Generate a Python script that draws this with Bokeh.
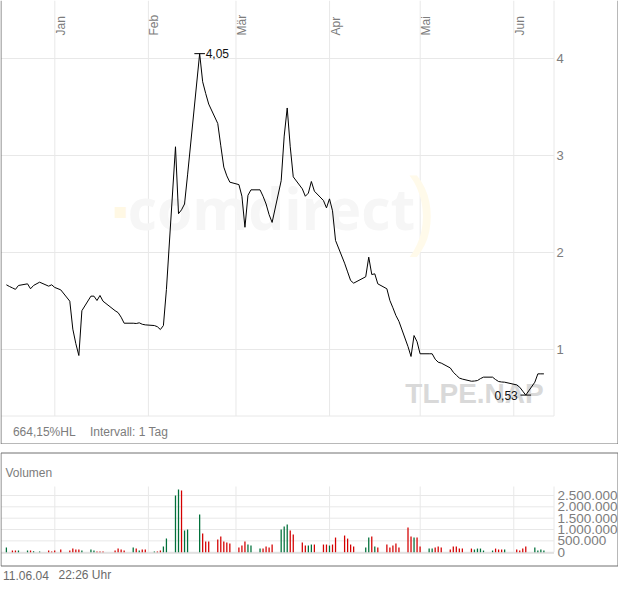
import numpy as np
import pandas as pd
from bokeh.plotting import figure
from bokeh.layouts import column
from bokeh.models import Range1d
from bokeh.core.properties import value
from bokeh.embed import file_html
from bokeh.resources import INLINE

# ---------------- data ----------------
price_dates = [
    "2003-12-15", "2003-12-16", "2003-12-17", "2003-12-18", "2003-12-19", "2003-12-22", "2003-12-23",
    "2003-12-24", "2003-12-26", "2003-12-29", "2003-12-30", "2003-12-31", "2004-01-02", "2004-01-05",
    "2004-01-06", "2004-01-07", "2004-01-08", "2004-01-09", "2004-01-12", "2004-01-13", "2004-01-14",
    "2004-01-15", "2004-01-16", "2004-01-20", "2004-01-21", "2004-01-22", "2004-01-23", "2004-01-26",
    "2004-01-27", "2004-01-28", "2004-01-29", "2004-01-30", "2004-02-02", "2004-02-03", "2004-02-04",
    "2004-02-05", "2004-02-06", "2004-02-09", "2004-02-10", "2004-02-11", "2004-02-12", "2004-02-13",
    "2004-02-17", "2004-02-18", "2004-02-19", "2004-02-20", "2004-02-23", "2004-02-24", "2004-02-25",
    "2004-02-26", "2004-02-27", "2004-03-01", "2004-03-02", "2004-03-03", "2004-03-04", "2004-03-05",
    "2004-03-08", "2004-03-09", "2004-03-10", "2004-03-11", "2004-03-12", "2004-03-15", "2004-03-16",
    "2004-03-17", "2004-03-18", "2004-03-19", "2004-03-22", "2004-03-23", "2004-03-24", "2004-03-25",
    "2004-03-26", "2004-03-29", "2004-03-30", "2004-03-31", "2004-04-01", "2004-04-02", "2004-04-05",
    "2004-04-06", "2004-04-07", "2004-04-08", "2004-04-12", "2004-04-13", "2004-04-14", "2004-04-15",
    "2004-04-16", "2004-04-19", "2004-04-20", "2004-04-21", "2004-04-22", "2004-04-23", "2004-04-26",
    "2004-04-27", "2004-04-28", "2004-04-29", "2004-04-30", "2004-05-03", "2004-05-04", "2004-05-05",
    "2004-05-06", "2004-05-07", "2004-05-10", "2004-05-11", "2004-05-12", "2004-05-13", "2004-05-14",
    "2004-05-17", "2004-05-18", "2004-05-19", "2004-05-20", "2004-05-21", "2004-05-24", "2004-05-25",
    "2004-05-26", "2004-05-27", "2004-05-28", "2004-06-01", "2004-06-02", "2004-06-03", "2004-06-04",
    "2004-06-07", "2004-06-08", "2004-06-09", "2004-06-10",
]
price_values = [
    1.667, 1.65, 1.635, 1.62, 1.66, 1.677, 1.626,
    1.66, 1.694, 1.653, 1.667, 1.64, 1.615, 1.498,
    1.21, 1.06, 0.938, 1.40, 1.55, 1.55, 1.505,
    1.557, 1.498, 1.40, 1.38, 1.333, 1.271, 1.271,
    1.268, 1.275, 1.26, 1.254, 1.247, 1.235, 1.206,
    1.247, 1.62, 3.09, 2.40, 2.44, 2.50, 2.80,
    4.05, 3.76, 3.64, 3.53, 3.33, 3.10, 2.88,
    2.79, 2.725, 2.70, 2.58, 2.26, 2.59, 2.646,
    2.646, 2.58, 2.50, 2.39, 2.31, 2.74, 3.20,
    3.49, 3.09, 2.78, 2.656, 2.58, 2.612, 2.732,
    2.632, 2.536, 2.46, 2.553, 2.43, 2.124, 1.89,
    1.80, 1.711, 1.684, 1.75, 1.952, 1.773, 1.78,
    1.677, 1.626, 1.505, 1.43, 1.35, 1.29, 1.03,
    0.928, 1.144, 1.08, 0.956, 0.956, 0.956, 0.90,
    0.869, 0.86, 0.81, 0.766, 0.735, 0.706, 0.695,
    0.673, 0.675, 0.68, 0.70, 0.715, 0.715, 0.69,
    0.67, 0.665, 0.663, 0.635, 0.611, 0.57, 0.53,
    0.663, 0.749, 0.749, 0.749,
]

volume_dates = [
    "2003-12-15", "2003-12-17", "2003-12-18", "2003-12-19", "2003-12-22", "2003-12-23", "2003-12-24",
    "2003-12-26", "2003-12-29", "2003-12-30", "2003-12-31", "2004-01-02", "2004-01-05", "2004-01-06",
    "2004-01-07", "2004-01-08", "2004-01-09", "2004-01-12", "2004-01-13", "2004-01-14", "2004-01-15",
    "2004-01-16", "2004-01-20", "2004-01-21", "2004-01-22", "2004-01-23", "2004-01-26", "2004-01-27",
    "2004-01-28", "2004-01-29", "2004-01-30", "2004-02-02", "2004-02-03", "2004-02-04", "2004-02-05",
    "2004-02-06", "2004-02-09", "2004-02-10", "2004-02-11", "2004-02-12", "2004-02-13", "2004-02-17",
    "2004-02-18", "2004-02-19", "2004-02-20", "2004-02-23", "2004-02-24", "2004-02-25", "2004-02-26",
    "2004-02-27", "2004-03-01", "2004-03-02", "2004-03-03", "2004-03-04", "2004-03-05", "2004-03-08",
    "2004-03-09", "2004-03-10", "2004-03-11", "2004-03-12", "2004-03-15", "2004-03-16", "2004-03-17",
    "2004-03-18", "2004-03-19", "2004-03-22", "2004-03-23", "2004-03-24", "2004-03-25", "2004-03-26",
    "2004-03-29", "2004-03-30", "2004-03-31", "2004-04-01", "2004-04-02", "2004-04-05", "2004-04-06",
    "2004-04-07", "2004-04-08", "2004-04-12", "2004-04-13", "2004-04-14", "2004-04-15", "2004-04-16",
    "2004-04-19", "2004-04-20", "2004-04-21", "2004-04-22", "2004-04-23", "2004-04-26", "2004-04-27",
    "2004-04-28", "2004-04-29", "2004-04-30", "2004-05-03", "2004-05-04", "2004-05-05", "2004-05-06",
    "2004-05-07", "2004-05-10", "2004-05-11", "2004-05-12", "2004-05-13", "2004-05-14", "2004-05-17",
    "2004-05-18", "2004-05-19", "2004-05-20", "2004-05-21", "2004-05-24", "2004-05-25", "2004-05-26",
    "2004-05-27", "2004-05-28", "2004-06-01", "2004-06-02", "2004-06-03", "2004-06-04", "2004-06-07",
    "2004-06-08", "2004-06-09", "2004-06-10",
]
volume_values = [
    206000, 73000, 73000, 73000, 73000, 73000, 44000,
    30000, 73000, 30000, 73000, 118000, 73000, 160000,
    118000, 118000, 73000, 118000, 73000, 30000, 30000,
    30000, 73000, 160000, 118000, 73000, 206000, 160000,
    73000, 118000, 118000, 30000, 30000, 73000, 250000,
    600000, 2500000, 2760000, 2720000, 955000, 1000000, 1660000,
    823000, 470000, 470000, 560000, 690000, 470000, 426000,
    382000, 206000, 294000, 470000, 338000, 294000, 160000,
    160000, 250000, 206000, 338000, 1000000, 1130000, 1220000,
    955000, 780000, 426000, 294000, 294000, 338000, 338000,
    338000, 338000, 294000, 338000, 646000, 735000, 600000,
    338000, 250000, 206000, 646000, 690000, 250000, 206000,
    338000, 206000, 294000, 382000, 206000, 1090000, 690000,
    646000, 646000, 250000, 160000, 160000, 206000, 250000,
    206000, 118000, 250000, 250000, 160000, 160000, 160000,
    118000, 160000, 160000, 73000, 73000, 160000, 118000,
    118000, 118000, 118000, 73000, 160000, 250000, 206000,
    73000, 118000, 73000,
]
volume_up = [
    1, 0, 0, 1, 1, 0, 1,
    1, 0, 0, 0, 0, 0, 0,
    0, 0, 1, 1, 1, 0, 0,
    0, 0, 0, 0, 0, 1, 0,
    1, 0, 0, 1, 0, 0, 1,
    1, 1, 1, 0, 1, 1, 1,
    0, 0, 0, 0, 0, 0, 0,
    0, 0, 0, 0, 1, 1, 1,
    0, 0, 0, 0, 1, 1, 1,
    0, 0, 0, 0, 1, 1, 0,
    0, 0, 1, 0, 0, 0, 0,
    0, 0, 1, 1, 0, 1, 0,
    0, 0, 0, 0, 0, 0, 0,
    1, 0, 0, 1, 1, 0, 0,
    0, 0, 0, 0, 0, 0, 0,
    1, 1, 1, 1, 1, 0, 0,
    0, 1, 0, 0, 0, 0, 1,
    1, 1, 1,
]

month_starts = ["2004-01-01", "2004-02-01", "2004-03-01", "2004-04-01", "2004-05-01", "2004-06-01"]
month_labels = ["Jan", "Feb", "Mär", "Apr", "Mai", "Jun"]
price_ticks = [1, 2, 3, 4]
price_tick_labels = ["1", "2", "3", "4"]
volume_ticks = [0, 500000, 1000000, 1500000, 2000000, 2500000]
volume_tick_labels = ["0", "500.000", "1.000.000", "1.500.000", "2.000.000", "2.500.000"]

symbol = "TLPE.NAP"
interval_text = "Intervall: 1 Tag"
stamp_date = "11.06.04"
stamp_time = "22:26 Uhr"

# ---------------- geometry helpers ----------------
W, H1, H2 = 618, 444, 137
EPOCH = pd.Timestamp("2004-01-01")
PPD = 3.0197                      # px per day
X0 = -54.3 / PPD
X1 = X0 + W / PPD
PPP = 97.0                        # px per price unit
Y_TOP = 446.0 / PPP
VPP = 500000.0 / 11.34            # volume per px
V_ZERO = 107.7                    # px of the zero line in the volume panel


def days(dates, hours=0.0):
    t = pd.to_datetime(pd.Series(dates)) + pd.Timedelta(hours=hours)
    return ((t - EPOCH) / pd.Timedelta(days=1)).to_numpy()


def dx(cx):
    return X0 + cx / PPD


def py(cy):
    return Y_TOP - cy / PPP


def vy(cy):
    return (V_ZERO - cy) * VPP


FONT = value("Liberation Sans")
GRID = "#e8e8e8"
BOX = "#707070"
LABEL = "#7c7c7c"

px = days(price_dates, hours=23.2)
vx = days(volume_dates, hours=23.2)
mx = days(month_starts)
pv = np.array(price_values)

# ---------------- price panel ----------------
p = figure(width=W, height=H1, x_range=Range1d(X0, X1), y_range=Range1d(py(H1), Y_TOP),
           x_axis_type=None, y_axis_type=None, toolbar_location=None, output_backend="svg",
           min_border=0, outline_line_color=None, background_fill_color="white",
           border_fill_color="white")

plot_right = dx(553.5)
plot_bottom = py(415.5)
# grid
p.segment(x0=mx, y0=[plot_bottom] * len(mx), x1=mx, y1=[Y_TOP] * len(mx), line_color=GRID, line_width=1)
p.segment(x0=[dx(0.5)] * len(price_ticks), y0=price_ticks, x1=[plot_right] * len(price_ticks), y1=price_ticks,
          line_color=GRID, line_width=1)
p.segment(x0=[dx(0.5), plot_right], y0=[plot_bottom, plot_bottom], x1=[plot_right, plot_right],
          y1=[plot_bottom, Y_TOP], line_color=GRID, line_width=1)

# watermarks
p.text(x=[dx(271)], y=[py(207)], text=["comdirect"], text_font=value("Open Sans"), text_font_style="bold",
       text_font_size="57px", text_color="#f6f6f6", text_align="center", text_baseline="middle")
p.text(x=[dx(120)], y=[py(210)], text=["\u25aa"], text_font=value("DejaVu Sans"),
       text_font_size="22px", text_color="#fff8e4", text_align="center", text_baseline="middle")
p.text(x=[dx(420)], y=[py(205)], text=[")"], text_font=value("Open Sans"),
       text_font_size="94px", text_color="#fffaea", text_align="center", text_baseline="middle")
p.text(x=[dx(474)], y=[py(393)], text=[symbol], text_font=FONT, text_font_style="bold",
       text_font_size="28px", text_color="#d9d9d9", text_align="center", text_baseline="middle")

# month labels
p.text(x=mx, y=[py(35)] * len(mx), text=month_labels, angle=np.pi / 2, text_font=FONT,
       text_font_size="12px", text_color=LABEL, text_align="left", text_baseline="top", x_offset=-1)
# price tick labels
p.text(x=[dx(556)] * len(price_ticks), y=price_ticks, text=price_tick_labels, text_font=FONT,
       text_font_size="13px", text_color=LABEL, text_align="left", text_baseline="middle")

# price line
p.line(px, pv, line_color="black", line_width=1)

# high / low markers
i_hi = int(np.argmax(pv))
i_lo = int(np.argmin(pv))
hw = 5.3 / PPD
p.segment(x0=[px[i_hi] - hw, px[i_lo] - hw], y0=[pv[i_hi], pv[i_lo]],
          x1=[px[i_hi] + hw, px[i_lo] + hw], y1=[pv[i_hi], pv[i_lo]], line_color="black", line_width=1)
fmt = lambda v: f"{v:.2f}".replace(".", ",")
p.text(x=[px[i_hi]], y=[pv[i_hi]], text=[fmt(pv[i_hi])], x_offset=6, text_font=FONT,
       text_font_size="12px", text_color="#111111", text_align="left", text_baseline="middle")
p.text(x=[px[i_lo]], y=[pv[i_lo]], text=[fmt(pv[i_lo])], x_offset=-8, text_font=FONT,
       text_font_size="12px", text_color="#111111", text_align="right", text_baseline="middle")

hl = (pv[i_hi] - pv[i_lo]) / pv[i_lo] * 100
p.text(x=[dx(12.4), dx(89.5)], y=[py(431)] * 2, text=[fmt(hl) + "%HL", interval_text], text_font=FONT,
       text_font_size="12px", text_color=LABEL, text_align="left", text_baseline="middle")

# box (left, right, bottom)
p.segment(x0=[dx(0.5), dx(617.5), dx(0.5)], y0=[Y_TOP, Y_TOP, py(443.5)],
          x1=[dx(0.5), dx(617.5), dx(617.5)], y1=[py(443.5), py(443.5), py(443.5)],
          line_color=BOX, line_width=1)

# ---------------- volume panel ----------------
v = figure(width=W, height=H2, x_range=Range1d(X0, X1), y_range=Range1d(vy(H2), vy(0)),
           x_axis_type=None, y_axis_type=None, toolbar_location=None, output_backend="svg",
           min_border=0, outline_line_color=None, background_fill_color="white",
           border_fill_color="white")

v_top = vy(42)
v.segment(x0=mx, y0=[0] * len(mx), x1=mx, y1=[v_top] * len(mx), line_color=GRID, line_width=1)
v.segment(x0=[dx(0.5)] * len(volume_ticks), y0=volume_ticks, x1=[plot_right] * len(volume_ticks),
          y1=volume_ticks, line_color=GRID, line_width=1)
v.segment(x0=[plot_right], y0=[0], x1=[plot_right], y1=[v_top], line_color=GRID, line_width=1)
v.segment(x0=[dx(0.5)], y0=[vy(V_ZERO + 0.8)], x1=[plot_right], y1=[vy(V_ZERO + 0.8)],
          line_color="#dcdcdc", line_width=1.5)

colors = ["#00703a" if u else "#d40000" for u in volume_up]
v.vbar(x=vx, top=volume_values, bottom=0, width=0.42, fill_color=colors, line_color=None)

v.text(x=[dx(557)] * len(volume_ticks), y=volume_ticks, text=volume_tick_labels, text_font=FONT,
       text_font_size="13.5px", text_color=LABEL, text_align="left", text_baseline="middle")
v.text(x=[dx(5)], y=[vy(28)], text=["Volumen"], text_font=FONT, text_font_size="12px",
       text_color=LABEL, text_align="left", text_baseline="middle")
v.text(x=[dx(2.5), dx(58)], y=[vy(130.5)] * 2, text=[stamp_date, stamp_time], text_font=FONT,
       text_font_size="12px", text_color="#6a6a6a", text_align="left", text_baseline="middle")

# box
bt, bb, bl, br = vy(8.5), vy(121.5), dx(0.5), dx(617.5)
v.segment(x0=[bl, br, bl, bl], y0=[bt, bt, bt, bb], x1=[bl, br, br, br], y1=[bb, bb, bt, bb],
          line_color=BOX, line_width=1)

layout = column(p, v, spacing=0)
open("out.html", "w").write(file_html(layout, INLINE))
